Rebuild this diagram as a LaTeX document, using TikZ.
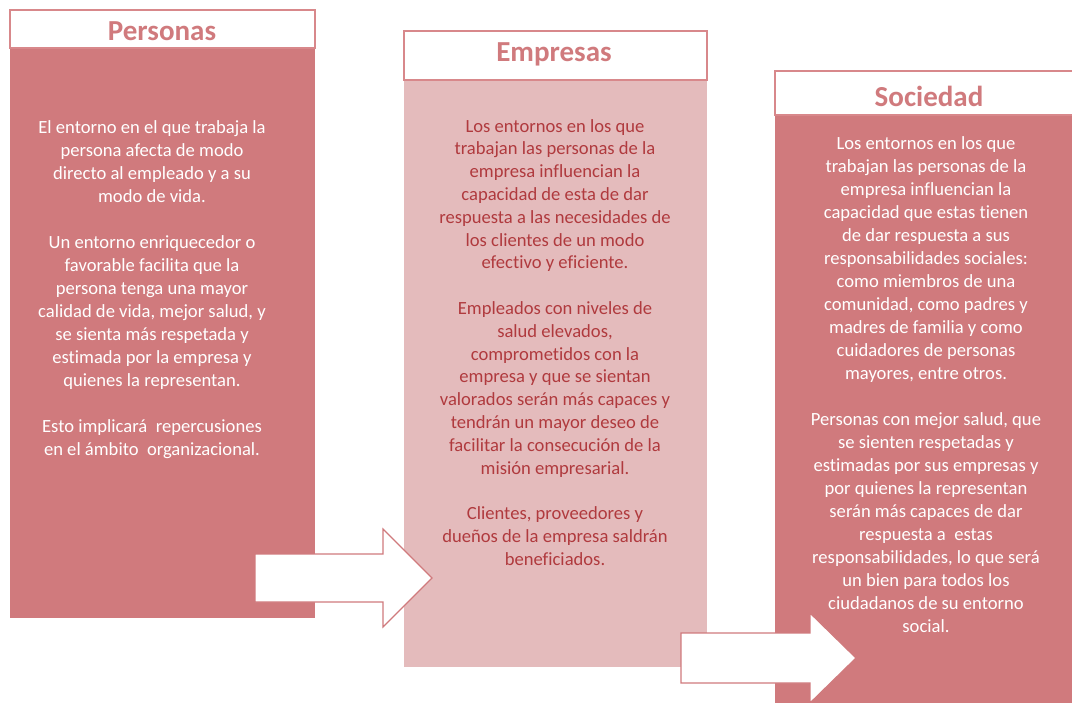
\documentclass[tikz,border=0pt]{standalone}
\usepackage{fontspec}
\setmainfont{Carlito}[Ligatures=CommonOff]
\usetikzlibrary{positioning}

\definecolor{rosa}{HTML}{D07A7D}
\definecolor{rosaclaro}{HTML}{E4BBBC}
\definecolor{rojotexto}{HTML}{B03A3E}
\definecolor{borde}{HTML}{D8888B}

\tikzset{
    cuerpo/.style={inner sep=0pt, outer sep=0pt, anchor=north west},
    cabecera/.style={draw=borde, line width=1.5pt, fill=white, inner sep=0pt, outer sep=0pt},
    titulo/.style={anchor=base, inner sep=0pt, text=rosa, font=\fontsize{29}{31}\selectfont\bfseries},
    texto/.style={align=center, inner sep=0pt, anchor=north, font=\fontsize{18.6}{23}\selectfont},
    flecha/.style={draw=rosa, line width=1.2pt, fill=white, line join=miter}
}

\begin{document}
\begin{tikzpicture}[x=1pt, y=-1pt]
    \useasboundingbox [fill=white] (0, 0) rectangle (1072, 703);
    \node [cuerpo, fill=rosa, minimum width=305pt, minimum height=570pt] (cuerpo1) at (10, 48) {};
    \node [cabecera, minimum width=305pt, minimum height=38pt, above=0pt of cuerpo1] (cab1) {};
    \node [titulo] (personas) at (162, 41) {Personas};
    \node [texto, text=white] (texto1) at (152, 120) {El entorno en el que trabaja la\\persona afecta de modo\\directo al empleado y a su\\modo de vida.\\[23pt]
        Un entorno enriquecedor o\\favorable facilita que la\\persona tenga una mayor\\calidad de vida, mejor salud, y\\se sienta más respetada y\\estimada por la empresa y\\quienes la representan.\\[23pt]
        Esto implicará~ repercusiones\\en el ámbito~ organizacional.};

    \node [cuerpo, fill=rosaclaro, minimum width=303pt, minimum height=587pt] (cuerpo2) at (404, 80) {};
    \node [cabecera, minimum width=303pt, minimum height=49pt, above=0pt of cuerpo2] (cab2) {};
    \node [titulo] (empresas) at (554, 62) {Empresas};
    \node [texto, text=rojotexto, font=\fontsize{18.6}{22.8}\selectfont] (texto2) at (555, 119) {Los entornos en los que\\trabajan las personas de la\\empresa influencian la\\capacidad de esta de dar\\respuesta a las necesidades de\\los clientes de un modo\\efectivo y eficiente.\\[22.8pt]
        Empleados con niveles de\\salud elevados,\\comprometidos con la\\empresa y que se sientan\\valorados serán más capaces y\\tendrán un mayor deseo de\\facilitar la consecución de la\\misión empresarial.\\[22.8pt]
        Clientes, proveedores y\\dueños de la empresa saldrán\\beneficiados.};

    \node [cuerpo, fill=rosa, minimum width=300pt, minimum height=590pt] (cuerpo3) at (775, 115) {};
    \node [cabecera, minimum width=300pt, minimum height=44pt, above=0pt of cuerpo3] (cab3) {};
    \node [titulo] (sociedad) at (929, 107) {Sociedad};
    \node [texto, text=white] (texto3) at (926, 136) {Los entornos en los que\\trabajan las personas de la\\empresa influencian la\\capacidad que estas tienen\\de dar respuesta a sus\\responsabilidades sociales:\\como miembros de una\\comunidad, como padres y\\madres de familia y como\\cuidadores de personas\\mayores, entre otros.\\[23pt]
        Personas con mejor salud, que\\se sienten respetadas y\\estimadas por sus empresas y\\por quienes la representan\\serán más capaces de dar\\respuesta a~ estas\\responsabilidades, lo que será\\un bien para todos los\\ciudadanos de su entorno\\social.};

    \draw [flecha] (255, 554) -- (383, 554) -- (383, 529) -- (432, 578) -- (383, 627) -- (383, 602) -- (255, 602) -- cycle;
    \draw [flecha] (681, 633) -- (810, 633) -- (810, 613) -- (856, 658) -- (810, 703) -- (810, 683) -- (681, 683) -- cycle;
\end{tikzpicture}
\end{document}
